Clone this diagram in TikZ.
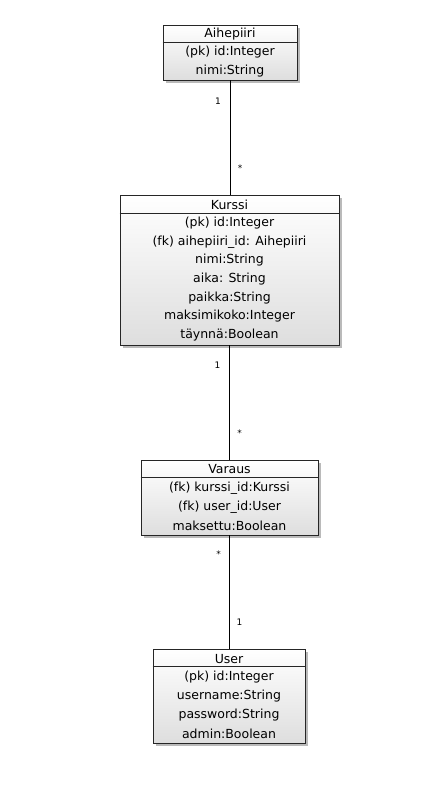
\documentclass[tikz,border=0pt]{standalone}
\usepackage{fontspec}
\setmainfont{DejaVu Sans}
\usetikzlibrary{shadows}
\begin{document}
\begin{tikzpicture}[x=1pt,y=-1pt,
  classbox/.style={draw=black!85, line width=0.8pt, top color=white, bottom color=black!13,
    minimum width=#1, inner sep=0pt,
    drop shadow={shadow xshift=2.5pt, shadow yshift=-2.5pt, fill=black!45, opacity=0.6}},
  txt/.style={font=\fontsize{12.5}{14}\selectfont, inner sep=0pt, anchor=center, yshift=-1.5pt},
  mult/.style={font=\fontsize{9}{10}\selectfont, inner sep=0pt},
  conn/.style={draw=black, line width=0.8pt},
  divider/.style={draw=black!85, line width=0.8pt}]
\useasboundingbox (0,0) rectangle (436,787);
\fill[white] (0,0) rectangle (436,787);

% Aihepiiri
\node[classbox=134pt, minimum height=55pt] (a) at (230,52.5) {};
\draw[divider] ([yshift=-18pt]a.north west) -- ([yshift=-18pt]a.north east);
\node[txt] (at) at (230,33) {Aihepiiri};
\node[txt] (a1) at (230,50.5) {(pk) id:Integer};
\node[txt] (a2) at (230,69.5) {nimi:String};

% Kurssi
\node[classbox=219pt, minimum height=150pt] (k) at (229.5,270) {};
\draw[divider] ([yshift=-19pt]k.north west) -- ([yshift=-19pt]k.north east);
\node[txt] (kt) at (229.5,203.5) {Kurssi};
\node[txt] (k1) at (229.5,221.5) {(pk) id:Integer};
\node[txt] (k2) at (229.5,240.5) {(fk) aihepiiri\_id: Aihepiiri};
\node[txt] (k3) at (229.5,259) {nimi:String};
\node[txt] (k4) at (229.5,277.5) {aika: String};
\node[txt] (k5) at (229.5,296.5) {paikka:String};
\node[txt] (k6) at (229.5,315) {maksimikoko:Integer};
\node[txt] (k7) at (229.5,334) {täynnä:Boolean};

% Varaus
\node[classbox=177pt, minimum height=75pt] (v) at (229.5,497.5) {};
\draw[divider] ([yshift=-18pt]v.north west) -- ([yshift=-18pt]v.north east);
\node[txt] (vt) at (229.5,468) {Varaus};
\node[txt] (v1) at (229.5,486.5) {(fk) kurssi\_id:Kurssi};
\node[txt] (v2) at (229.5,505.5) {(fk) user\_id:User};
\node[txt] (v3) at (229.5,524.5) {maksettu:Boolean};

% User
\node[classbox=152pt, minimum height=94pt] (u) at (229,696) {};
\draw[divider] ([yshift=-18pt]u.north west) -- ([yshift=-18pt]u.north east);
\node[txt] (ut) at (229,657.5) {User};
\node[txt] (u1) at (229,675.5) {(pk) id:Integer};
\node[txt] (u2) at (229,694.5) {username:String};
\node[txt] (u3) at (229,713.5) {password:String};
\node[txt] (u4) at (229,732.5) {admin:Boolean};

% connectors
\draw[conn] (a.south) -- node[mult, pos=0.18, xshift=-12pt]{1} node[mult, pos=0.77, xshift=10pt]{*} (a.south |- k.north);
\draw[conn] (k.south) -- node[mult, pos=0.17, xshift=-12pt]{1} node[mult, pos=0.77, xshift=10pt]{*} (k.south |- v.north);
\draw[conn] (v.south) -- node[mult, pos=0.17, xshift=-11pt]{*} node[mult, pos=0.77, xshift=10pt]{1} (v.south |- u.north);
\end{tikzpicture}
\end{document}
